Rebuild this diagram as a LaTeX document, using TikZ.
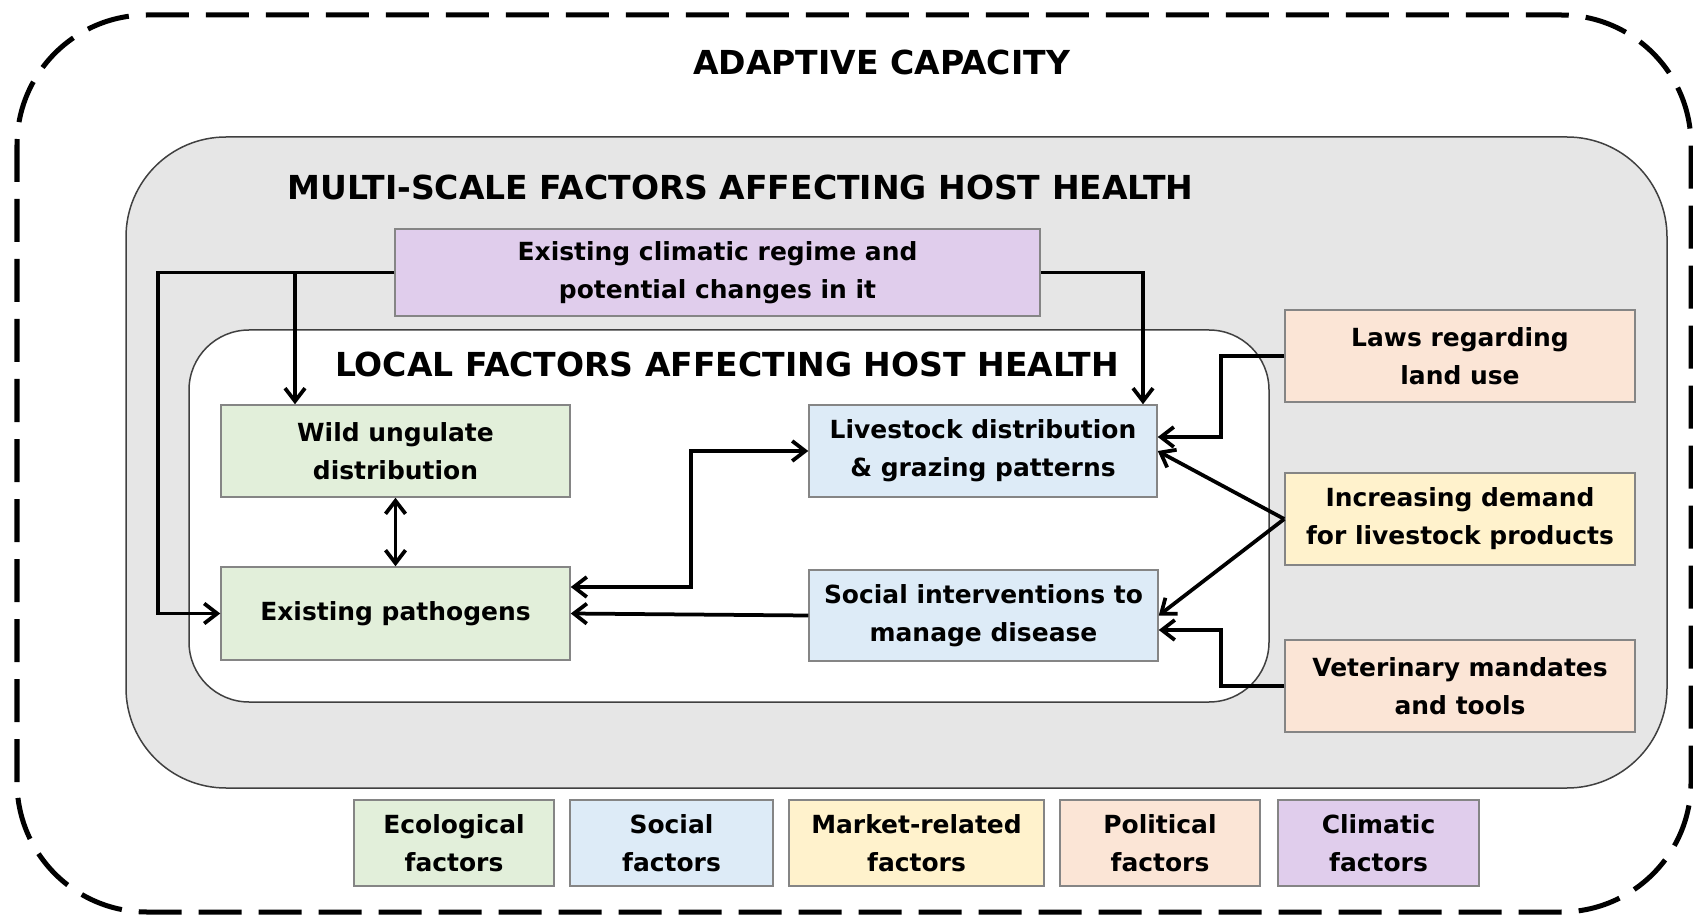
\documentclass[tikz,border=0pt]{standalone}
\usepackage{fontspec}
\setmainfont{DejaVu Sans}
\usepackage{tikz}
\usetikzlibrary{positioning,calc,arrows.meta}
\definecolor{ecobg}{HTML}{E2EFDA}
\definecolor{socbg}{HTML}{DDEBF7}
\definecolor{mktbg}{HTML}{FFF2CC}
\definecolor{polbg}{HTML}{FBE5D6}
\definecolor{climbg}{HTML}{E0CDEC}
\definecolor{panelbg}{HTML}{E6E6E6}
\definecolor{boxline}{HTML}{858585}

\begin{document}
\begin{tikzpicture}[
  factor/.style={draw=boxline, line width=0.03cm, align=center, inner sep=0pt,
    font=\fontsize{14.2}{21.5}\selectfont\bfseries},
  heading/.style={anchor=base, font=\fontsize{18.8}{22}\selectfont\bfseries},
  arr/.style={line width=0.075cm, -{Straight Barb[length=0.26cm,width=0.4cm]}},
  arrs/.style={arr, {Straight Barb[length=0.26cm,width=0.4cm]}-{Straight Barb[length=0.26cm,width=0.4cm]}}
]
  \useasboundingbox (0,0) rectangle (33.86,18.32);

  % Adaptive capacity (dashed outer frame)
  \draw[line width=0.1cm, dash pattern=on 0.86cm off 0.34cm, rounded corners=2.6cm]
    (0.34,0.08) rectangle (33.82,18.02);
  \node[heading] (adapt) at (17.63,16.82) {ADAPTIVE CAPACITY};

  % Multi-scale panel
  \draw[draw=black!75, line width=0.03cm, fill=panelbg, rounded corners=2.0cm]
    (2.52,2.56) rectangle (33.34,15.58);
  \node[heading] (multi) at (14.81,14.32) {MULTI-SCALE FACTORS AFFECTING HOST HEALTH};

  % Local panel
  \draw[draw=black!75, line width=0.03cm, fill=white, rounded corners=1.2cm]
    (3.78,4.28) rectangle (25.38,11.72);
  \node[heading] (local) at (14.54,10.79) {LOCAL FACTORS AFFECTING HOST HEALTH};

  % Factor boxes
  \node[factor, fill=climbg, minimum width=12.9cm, minimum height=1.74cm] (climate) at (14.35,12.87)
    {Existing climatic regime and\\potential changes in it};
  \node[factor, fill=ecobg, minimum width=6.98cm, minimum height=1.84cm] (wild) at (7.91,9.30)
    {Wild ungulate\\distribution};
  \node[factor, fill=ecobg, minimum width=6.98cm, minimum height=1.86cm] (path) at (7.91,6.05)
    {Existing pathogens};
  \node[factor, fill=socbg, minimum width=6.96cm, minimum height=1.84cm] (livestock) at (19.66,9.30)
    {Livestock distribution\\\& grazing patterns};
  \node[factor, fill=socbg, minimum width=6.98cm, minimum height=1.82cm] (social) at (19.67,6.01)
    {Social interventions to\\manage disease};
  \node[factor, fill=polbg, minimum width=7.0cm, minimum height=1.84cm] (laws) at (29.2,11.2)
    {Laws regarding\\land use};
  \node[factor, fill=mktbg, minimum width=7.0cm, minimum height=1.84cm] (demand) at (29.2,7.94)
    {Increasing demand\\for livestock products};
  \node[factor, fill=polbg, minimum width=7.0cm, minimum height=1.84cm] (vet) at (29.2,4.6)
    {Veterinary mandates\\and tools};

  % Legend
  \node[factor, fill=ecobg, minimum width=4.0cm, minimum height=1.72cm] (keyeco) at (9.08,1.46)
    {Ecological\\factors};
  \node[factor, fill=socbg, minimum width=4.06cm, minimum height=1.72cm] (keysoc) at (13.43,1.46)
    {Social\\factors};
  \node[factor, fill=mktbg, minimum width=5.1cm, minimum height=1.72cm] (keymkt) at (18.33,1.46)
    {Market-related\\factors};
  \node[factor, fill=polbg, minimum width=4.0cm, minimum height=1.72cm] (keypol) at (23.2,1.46)
    {Political\\factors};
  \node[factor, fill=climbg, minimum width=4.02cm, minimum height=1.72cm] (keyclim) at (27.57,1.46)
    {Climatic\\factors};

  % Connections
  \coordinate (wildin) at ([xshift=-2.01cm]wild.north);
  \coordinate (livin) at ([xshift=3.2cm]livestock.north);
  \draw[arr] (climate.west) -| ([xshift=-1.24cm]path.west) -- (path.west);
  \draw[arr] (wildin |- climate.west) -- (wildin);
  \draw[arr] (climate.east) -| (livin);
  \draw[arrs] (wild) -- (path);
  \draw[arrs] ([yshift=0.53cm]path.east) -- ++(2.4,0) |- (livestock.west);
  \draw[arr] (social.west) -- (path.east);
  \draw[arr] (laws.west) -- ++(-1.26,0) |- ([yshift=0.28cm]livestock.east);
  \draw[arr] (demand.west) -- (livestock.east);
  \draw[arr] (demand.west) -- (social.east);
  \draw[arr] (vet.west) -- ++(-1.26,0) |- ([yshift=-0.29cm]social.east);
\end{tikzpicture}
\end{document}
